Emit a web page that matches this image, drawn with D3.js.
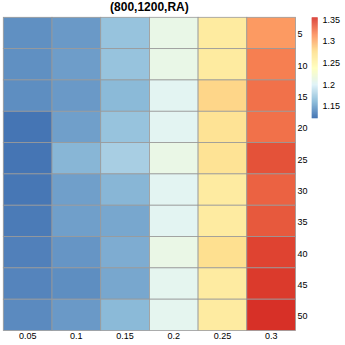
<!DOCTYPE html>
<html>
<head>
<meta charset="utf-8">
<script src="https://cdn.jsdelivr.net/npm/d3@7"></script>
<style>
html,body{margin:0;padding:0;background:#fff;}
svg{display:block;font-family:"Liberation Sans",Arial,Helvetica,sans-serif;}
</style>
</head>
<body>
<svg id="chart" width="345" height="345"></svg>
<script>
const title = "(800,1200,RA)";
const columns = ["0.05","0.1","0.15","0.2","0.25","0.3"];
const rows = ["5","10","15","20","25","30","35","40","45","50"];
// values per column (one entry per row, top to bottom)
const col005 = [1.136,1.136,1.135,1.122,1.122,1.123,1.125,1.128,1.130,1.133];
const col010 = [1.141,1.143,1.141,1.144,1.156,1.144,1.144,1.139,1.135,1.141];
const col015 = [1.164,1.164,1.158,1.164,1.172,1.156,1.148,1.151,1.148,1.158];
const col020 = [1.211,1.211,1.204,1.204,1.212,1.204,1.204,1.212,1.206,1.206];
const col025 = [1.264,1.264,1.282,1.273,1.273,1.263,1.263,1.277,1.263,1.263];
const col030 = [1.310,1.322,1.328,1.328,1.341,1.334,1.338,1.347,1.351,1.355];
const legendTicks = [1.15,1.2,1.25,1.3,1.35];
const palette = ["#4575B4","#91BFDB","#E0F3F8","#FFFFBF","#FEE090","#FC8D59","#D73027"];

const series = [col005,col010,col015,col020,col025,col030];
const cells = [];
series.forEach((vals,ci)=>vals.forEach((v,ri)=>cells.push({col:columns[ci],row:rows[ri],value:v})));

const vmin = d3.min(cells,d=>d.value), vmax = d3.max(cells,d=>d.value);
const color = d3.scaleLinear()
  .domain(palette.map((_,i)=>vmin+(vmax-vmin)*i/(palette.length-1)))
  .range(palette).interpolate(d3.interpolateRgb);

const svg = d3.select("#chart");
const x = d3.scaleBand().domain(columns).range([3.3,295.5]).padding(0);
const y = d3.scaleBand().domain(rows).range([17.3,330.5]).padding(0);

svg.append("g").selectAll("rect").data(cells).join("rect")
  .attr("x",d=>x(d.col)).attr("y",d=>y(d.row))
  .attr("width",x.bandwidth()).attr("height",y.bandwidth())
  .attr("fill",d=>color(d.value))
  .attr("stroke","#999999").attr("stroke-width",0.8);

svg.append("text").attr("x",(x.range()[0]+x.range()[1])/2).attr("y",11)
  .attr("text-anchor","middle").attr("font-weight","bold").attr("font-size",12)
  .attr("fill","#000").text(title);

svg.append("g").selectAll("text").data(columns).join("text")
  .attr("x",d=>x(d)+x.bandwidth()/2).attr("y",339)
  .attr("text-anchor","middle").attr("font-size",9).attr("fill","#000").text(d=>d);

svg.append("g").selectAll("text").data(rows).join("text")
  .attr("x",297.5).attr("y",d=>y(d)+y.bandwidth()/2+4.5)
  .attr("font-size",9).attr("fill","#000").text(d=>d);

// legend
const ly = d3.scaleLinear().domain([vmin,vmax]).range([118,17.3]);
const steps = d3.range(100).map(i=>vmin+(vmax-vmin)*i/100);
const step = (vmax-vmin)/100;
svg.append("g").selectAll("rect").data(steps).join("rect")
  .attr("x",311.7).attr("width",6)
  .attr("y",d=>ly(d+step)).attr("height",d=>ly(d)-ly(d+step)+0.3)
  .attr("fill",d=>color(d+step/2));
svg.append("g").selectAll("text").data(legendTicks).join("text")
  .attr("x",322.5).attr("y",d=>ly(d)+3.3)
  .attr("font-size",9).attr("fill","#000").text(d=>d);
</script>
</body>
</html>
